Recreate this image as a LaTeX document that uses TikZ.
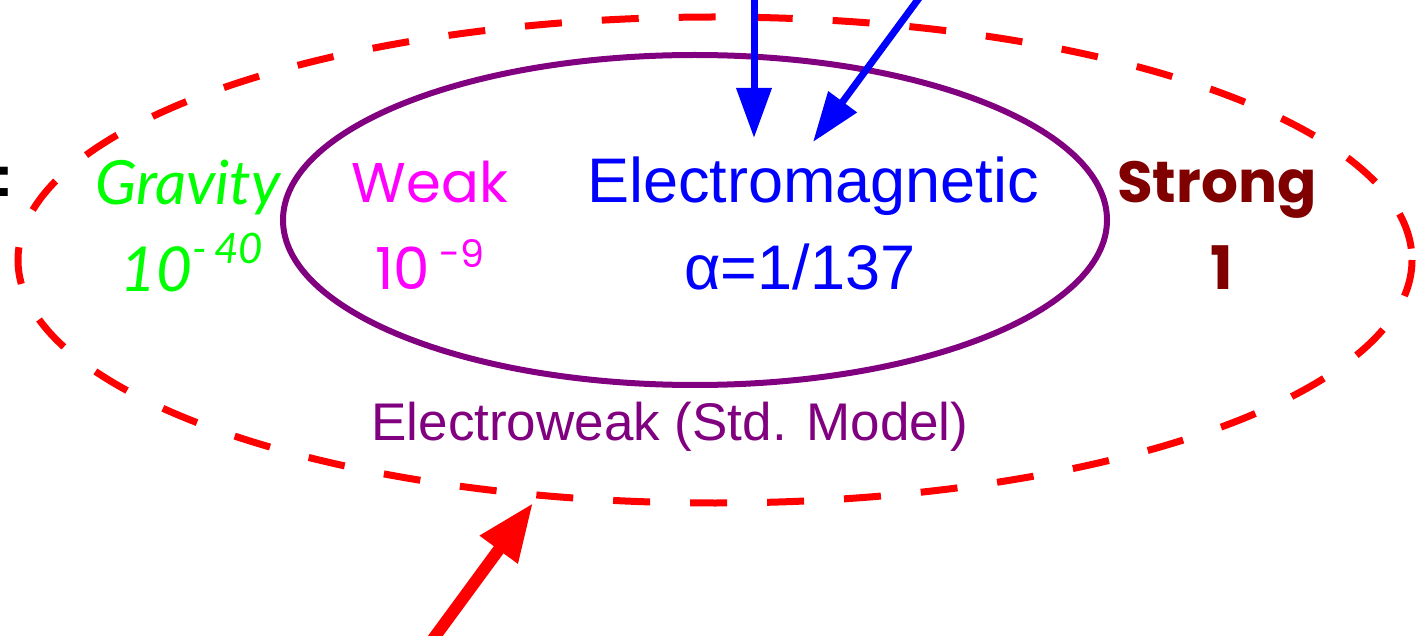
\documentclass[tikz,border=0pt]{standalone}
\usepackage{fontspec}
\setmainfont{Liberation Sans}
\newfontfamily\comicfont{Poppins}
\newfontfamily\gravfont{Lato}
\usetikzlibrary{arrows.meta}
\definecolor{gravgreen}{RGB}{0,255,0}
\definecolor{weakmag}{RGB}{255,0,255}
\definecolor{emblue}{RGB}{0,0,255}
\definecolor{strongred}{RGB}{128,0,0}
\definecolor{ewpurple}{RGB}{128,0,128}
\definecolor{gutred}{RGB}{255,0,0}
\tikzset{
  lbl/.style={inner sep=0pt, anchor=base},
  bluearrow/.style={draw=emblue, line width=7pt, -{Triangle[length=50pt,width=34pt]}, emblue},
  redarrow/.style={draw=gutred, line width=12pt, -{Triangle[length=58pt,width=44pt]}, gutred},
  gutellipse/.style={draw=gutred, line width=7pt, dash pattern=on 37pt off 40pt},
  ewellipse/.style={draw=ewpurple, line width=6pt}
}
\begin{document}
\begin{tikzpicture}[x=1pt,y=-1pt]
\useasboundingbox (0,0) rectangle (1422,636);
% ellipses
\draw[gutellipse] (715,260) ellipse [x radius=697, y radius=243];
\draw[ewellipse] (695,220) ellipse [x radius=412, y radius=165];
% colon at left edge
\node[lbl, anchor=base west, font=\fontsize{58}{60}\selectfont\bfseries] (colon) at (-6,197) {:};
% force labels
\node[lbl, text=gravgreen, font=\fontsize{61}{64}\selectfont\gravfont\itshape] (grav) at (188,205) {Gravity};
\node[lbl, text=gravgreen, font=\fontsize{62}{64}\selectfont\gravfont\itshape] (gravval) at (192,292) {10\raisebox{28pt}{\fontsize{42}{42}\selectfont -\,40}};
\node[lbl, text=weakmag, font=\fontsize{56}{60}\selectfont\comicfont] (weak) at (430,203) {Weak};
\node[lbl, text=weakmag, font=\fontsize{58}{60}\selectfont\comicfont] (weakval) at (430,290) {10\,\raisebox{22pt}{\fontsize{38}{38}\selectfont -9}};
\node[lbl, text=emblue, font=\fontsize{63}{66}\selectfont] (em) at (813,203) {Electromagnetic};
\node[lbl, text=emblue, font=\fontsize{63}{66}\selectfont] (emval) at (800,290) {α=1/137};
\node[lbl, text=strongred, font=\fontsize{58}{60}\selectfont\comicfont\bfseries] (strong) at (1217,203) {Strong};
\node[lbl, text=strongred, font=\fontsize{60}{62}\selectfont\comicfont\bfseries] (strongval) at (1222,290) {1};
\node[lbl, text=ewpurple, font=\fontsize{53}{56}\selectfont] (ew) at (670,440) {Electroweak (Std. Model)};
% arrow endpoints
\coordinate (b1s) at (754,-10);
\coordinate (b1e) at (754,138);
\coordinate (b2s) at (925,-10);
\coordinate (b2e) at (813,142);
\coordinate (rs) at (428,646);
\coordinate (re) at (533,503);
\draw[bluearrow] (b1s) -- (b1e);
\draw[bluearrow] (b2s) -- (b2e);
\draw[redarrow] (rs) -- (re);
\end{tikzpicture}
\end{document}
